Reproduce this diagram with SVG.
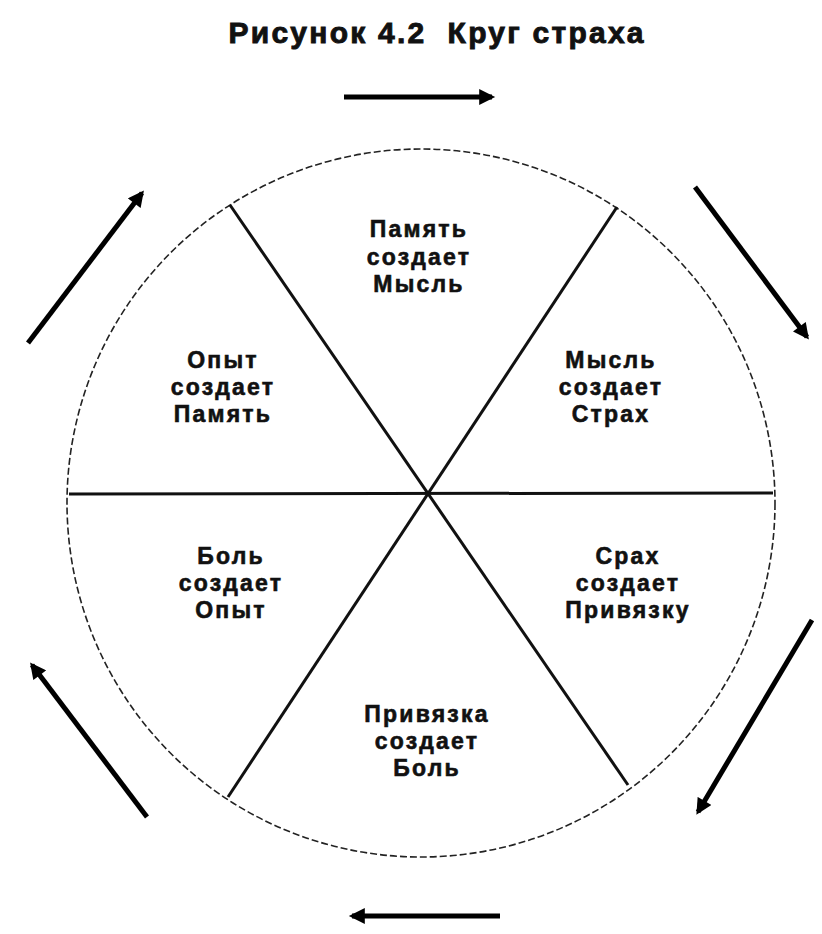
<svg xmlns="http://www.w3.org/2000/svg" width="822" height="934" viewBox="0 0 822 934">
<defs>
<style>
.t{font-family:"Liberation Sans",Arial,sans-serif;font-weight:bold;fill:#111;stroke:#111;text-anchor:middle}
.lbl{font-size:23px;letter-spacing:2.2px;stroke-width:0.6px}
.title{font-size:30px;stroke-width:0.9px}
.spoke{stroke:#111;stroke-width:3;fill:none}
.arr{stroke:#000;stroke-width:5;fill:none;marker-end:url(#ah)}
</style>
<marker id="ah" viewBox="0 0 10 10" refX="8" refY="5" markerWidth="3.4" markerHeight="3.2" orient="auto" markerUnits="strokeWidth">
<path d="M0,0 L10,5 L0,10 z" fill="#000"/>
</marker>
</defs>
<rect width="822" height="934" fill="#fff"/>
<text class="t title" x="436" y="43" xml:space="preserve" textLength="415" lengthAdjust="spacing">Рисунок 4.2  Круг страха</text>
<g id="circle">
<circle cx="421" cy="503" r="354" fill="none" stroke="#222" stroke-width="1.6" stroke-dasharray="7,3"/>
</g>
<g id="connectors">
<line class="spoke" x1="69" y1="494" x2="773" y2="493"/>
<line class="spoke" x1="230" y1="205" x2="628" y2="785"/>
<line class="spoke" x1="617" y1="207" x2="228" y2="797"/>
<line class="arr" x1="344" y1="97" x2="492" y2="97"/>
<line class="arr" x1="695" y1="187" x2="807" y2="337"/>
<line class="arr" x1="812" y1="620" x2="698" y2="812"/>
<line class="arr" x1="500" y1="916" x2="352" y2="916"/>
<line class="arr" x1="147" y1="817" x2="32" y2="665"/>
<line class="arr" x1="28" y1="343" x2="142" y2="193"/>
</g>
<g id="n1"><text class="t lbl" x="419" y="237">Память<tspan x="419" dy="28">создает</tspan><tspan x="419" dy="27">Мысль</tspan></text></g>
<g id="n2"><text class="t lbl" x="611" y="368">Мысль<tspan x="611" dy="27">создает</tspan><tspan x="611" dy="27">Страх</tspan></text></g>
<g id="n3"><text class="t lbl" x="628" y="564">Срах<tspan x="628" dy="27">создает</tspan><tspan x="628" dy="27">Привязку</tspan></text></g>
<g id="n4"><text class="t lbl" x="427" y="722">Привязка<tspan x="427" dy="27">создает</tspan><tspan x="427" dy="27">Боль</tspan></text></g>
<g id="n5"><text class="t lbl" x="231" y="564">Боль<tspan x="231" dy="27">создает</tspan><tspan x="231" dy="27">Опыт</tspan></text></g>
<g id="n6"><text class="t lbl" x="223" y="368">Опыт<tspan x="223" dy="27">создает</tspan><tspan x="223" dy="27">Память</tspan></text></g>
</svg>
